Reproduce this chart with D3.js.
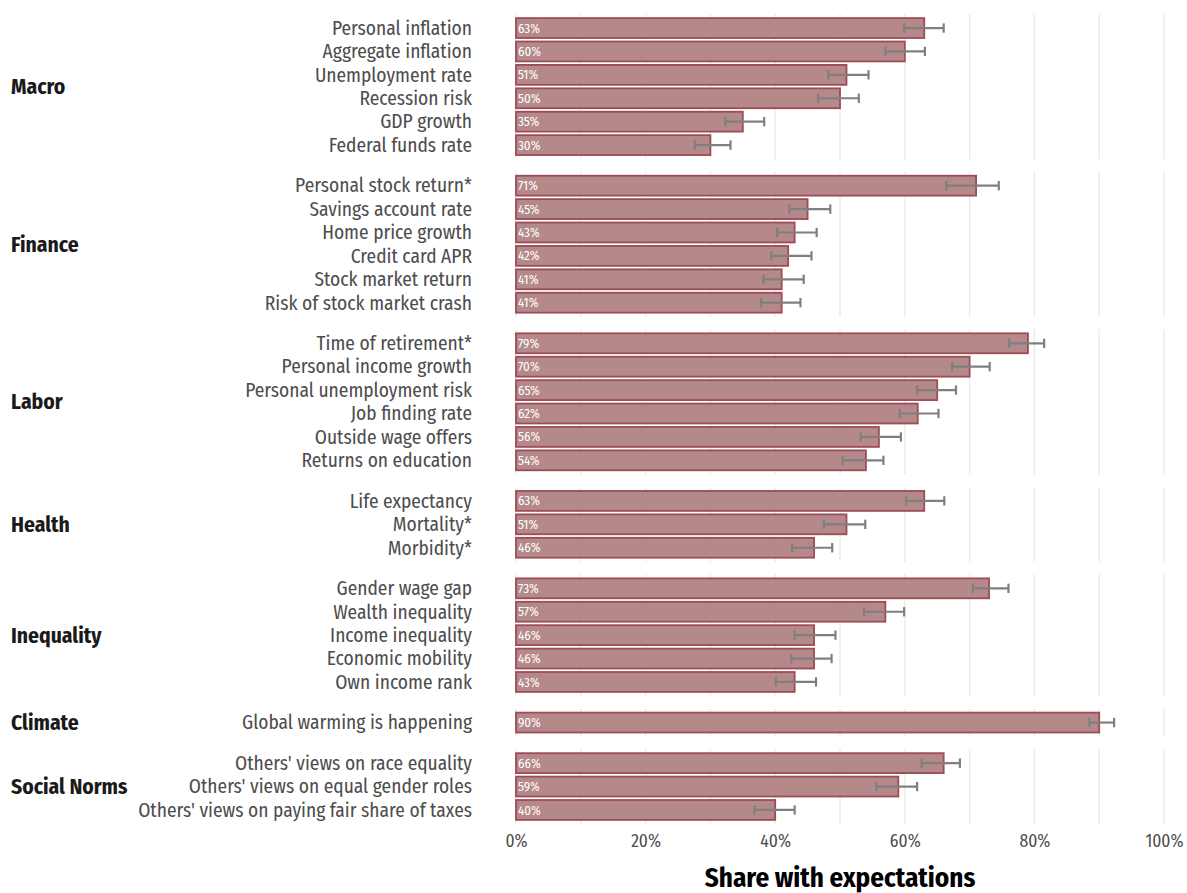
<!DOCTYPE html>
<html>
<head>
<meta charset="utf-8">
<script src="https://cdn.jsdelivr.net/npm/d3@7"></script>
<style>
  body { margin: 0; background: #ffffff; }
  svg { display: block; }
  text { font-family: 'Fira Sans Condensed', 'Liberation Sans Narrow', 'DejaVu Sans Condensed', 'Roboto', sans-serif; }
</style>
</head>
<body>
<svg id="chart" width="1187" height="893"></svg>
<script>
// Survey topics, grouped into domains (in display order)
const groups = ["Macro", "Finance", "Labor", "Health", "Inequality", "Climate", "Social Norms"];

const items = [
  "Personal inflation", "Aggregate inflation", "Unemployment rate", "Recession risk", "GDP growth", "Federal funds rate",
  "Personal stock return*", "Savings account rate", "Home price growth", "Credit card APR", "Stock market return", "Risk of stock market crash",
  "Time of retirement*", "Personal income growth", "Personal unemployment risk", "Job finding rate", "Outside wage offers", "Returns on education",
  "Life expectancy", "Mortality*", "Morbidity*",
  "Gender wage gap", "Wealth inequality", "Income inequality", "Economic mobility", "Own income rank",
  "Global warming is happening",
  "Others' views on race equality", "Others' views on equal gender roles", "Others' views on paying fair share of taxes"
];

const itemGroup = [
  "Macro", "Macro", "Macro", "Macro", "Macro", "Macro",
  "Finance", "Finance", "Finance", "Finance", "Finance", "Finance",
  "Labor", "Labor", "Labor", "Labor", "Labor", "Labor",
  "Health", "Health", "Health",
  "Inequality", "Inequality", "Inequality", "Inequality", "Inequality",
  "Climate",
  "Social Norms", "Social Norms", "Social Norms"
];

// Share of respondents with expectations (%)
const shares = [
  63, 60, 51, 50, 35, 30,
  71, 45, 43, 42, 41, 41,
  79, 70, 65, 62, 56, 54,
  63, 51, 46,
  73, 57, 46, 46, 43,
  90,
  66, 59, 40
];

// 95% confidence interval bounds (%)
const ciLow = [
  59.9, 57.0, 48.2, 46.6, 32.3, 27.6,
  66.4, 42.2, 40.3, 39.4, 38.2, 37.8,
  76.1, 67.3, 61.9, 59.2, 53.2, 50.4,
  60.2, 47.5, 42.6,
  70.5, 53.7, 43.0, 42.5, 40.1,
  88.5,
  62.6, 55.6, 36.8
];
const ciHigh = [
  66.0, 63.1, 54.4, 52.9, 38.3, 33.1,
  74.5, 48.5, 46.4, 45.6, 44.4, 43.9,
  81.5, 73.1, 67.9, 65.2, 59.4, 56.7,
  66.1, 53.9, 48.8,
  76.0, 59.9, 49.3, 48.7, 46.3,
  92.3,
  68.5, 61.9, 43.0
];

const xTickValues = [0, 20, 40, 60, 80, 100];
const xGridValues = [0, 10, 20, 30, 40, 50, 60, 70, 80, 90, 100];

const svg = d3.select("#chart");

const plot = { left: 516, right: 1164, top: 14, bottom: 824 };
const panelGap = 12.5;
const pad = 0.6; // discrete-axis expansion on each side of a panel

const x = d3.scaleLinear().domain([0, 100]).range([plot.left, plot.right]);

const rows = items.map((name, i) => ({
  name, group: itemGroup[i], value: shares[i], lo: ciLow[i], hi: ciHigh[i]
}));

// Panel heights proportional to the number of items (free y space)
const counts = groups.map(g => rows.filter(r => r.group === g).length);
const totalUnits = d3.sum(counts, n => n - 1 + 2 * pad);
const unit = (plot.bottom - plot.top - panelGap * (groups.length - 1)) / totalUnits;

let cursor = plot.top;
const panels = groups.map((g, gi) => {
  const h = (counts[gi] - 1 + 2 * pad) * unit;
  const p = {
    group: g,
    top: cursor,
    bottom: cursor + h,
    rows: rows.filter(r => r.group === g)
  };
  p.y = d3.scalePoint().domain(p.rows.map(r => r.name)).range([p.top, p.bottom]).padding(pad);
  cursor += h + panelGap;
  return p;
});

const barH = unit * 0.85;
const capH = unit * 0.4;

const fillColor = "#b5898a";
const strokeColor = "#9b4c55";
const errColor = "#7f7f7f";

panels.forEach(p => {
  const g = svg.append("g").attr("class", "panel");

  // vertical grid lines
  g.selectAll("line.grid")
    .data(xGridValues)
    .join("line")
    .attr("class", "grid")
    .attr("x1", d => x(d)).attr("x2", d => x(d))
    .attr("y1", p.top).attr("y2", p.bottom)
    .attr("stroke", "#ebebeb")
    .attr("stroke-width", 1.4);

  // bars
  g.selectAll("rect.bar")
    .data(p.rows)
    .join("rect")
    .attr("class", "bar")
    .attr("x", x(0))
    .attr("y", d => p.y(d.name) - barH / 2)
    .attr("width", d => x(d.value) - x(0))
    .attr("height", barH)
    .attr("fill", fillColor)
    .attr("stroke", strokeColor)
    .attr("stroke-width", 1.8);

  // error bars
  const eb = g.selectAll("g.err").data(p.rows).join("g").attr("class", "err")
    .attr("stroke", errColor).attr("stroke-width", 2.2).attr("fill", "none");
  eb.append("line")
    .attr("x1", d => x(d.lo)).attr("x2", d => x(d.hi))
    .attr("y1", d => p.y(d.name)).attr("y2", d => p.y(d.name));
  eb.append("line")
    .attr("x1", d => x(d.lo)).attr("x2", d => x(d.lo))
    .attr("y1", d => p.y(d.name) - capH / 2).attr("y2", d => p.y(d.name) + capH / 2);
  eb.append("line")
    .attr("x1", d => x(d.hi)).attr("x2", d => x(d.hi))
    .attr("y1", d => p.y(d.name) - capH / 2).attr("y2", d => p.y(d.name) + capH / 2);

  // value labels inside bars
  g.selectAll("text.val")
    .data(p.rows)
    .join("text")
    .attr("class", "val")
    .attr("x", x(0) + 2)
    .attr("y", d => p.y(d.name))
    .attr("dy", "0.35em")
    .attr("fill", "#ffffff")
    .attr("font-size", 13)
    .text(d => d.value + "%");

  // item labels
  g.selectAll("text.item")
    .data(p.rows)
    .join("text")
    .attr("class", "item")
    .attr("x", 472)
    .attr("y", d => p.y(d.name))
    .attr("dy", "0.35em")
    .attr("text-anchor", "end")
    .attr("fill", "#4d4d4d")
    .attr("font-size", 19.4)
    .text(d => d.name);

  // group label
  g.append("text")
    .attr("x", 11)
    .attr("y", (p.top + p.bottom) / 2)
    .attr("dy", "0.35em")
    .attr("fill", "#1a1a1a")
    .attr("font-size", 21.5)
    .attr("font-weight", "bold")
    .text(p.group);
});

// x axis
const xAxis = d3.axisBottom(x)
  .tickValues(xTickValues)
  .tickFormat(d => d + "%")
  .tickSize(0)
  .tickPadding(0);

const ax = svg.append("g")
  .attr("transform", `translate(0, ${plot.bottom + 11})`)
  .call(xAxis);
ax.select(".domain").remove();
ax.selectAll("text")
  .attr("font-family", null)
  .attr("font-size", 17.5)
  .attr("fill", "#4d4d4d")
  .attr("dy", "0.71em");

// axis title
svg.append("text")
  .attr("x", (plot.left + plot.right) / 2)
  .attr("y", 887)
  .attr("text-anchor", "middle")
  .attr("fill", "#000000")
  .attr("font-size", 27)
  .attr("font-weight", "bold")
  .text("Share with expectations");
</script>
</body>
</html>
